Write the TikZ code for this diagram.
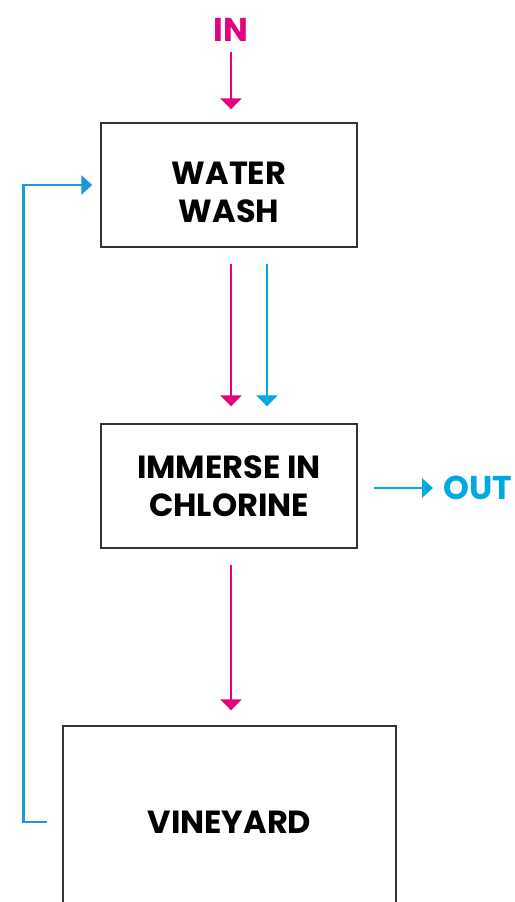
\documentclass[tikz,border=0pt]{standalone}
\usepackage{fontspec}
\setsansfont{Poppins}
\usetikzlibrary{arrows.meta,positioning}

\definecolor{inpink}{HTML}{E6007E}
\definecolor{outblue}{HTML}{00A9E0}
\definecolor{loopblue}{HTML}{1B9AD6}

\tikzset{
  stage/.style={draw=black!80,line width=1.4pt,align=center,inner sep=0pt,
    font=\sffamily\bfseries\fontsize{32}{38}\selectfont},
  flow/.style={line width=2.8pt,-{Triangle[length=11pt,width=21pt]}},
  backflow/.style={line width=2.8pt,-{Triangle[length=11pt,width=19pt]}},
  tag/.style={inner sep=0pt,font=\sffamily\bfseries\fontsize{33}{38}\selectfont},
}

\begin{document}
\begin{tikzpicture}[x=1pt,y=-1pt]
  \useasboundingbox (0,0) rectangle (514,902);
  \clip (0,0) rectangle (514,902);

  % process stages
  \node[stage,minimum width=256pt,minimum height=124pt] (wash) at (229,185) {\rule{0pt}{37pt}WATER\\WASH};
  \node[stage,minimum width=256pt,minimum height=124pt] (chlorine) at (229,486) {IMMERSE IN\\CHLORINE};
  \node[stage,minimum width=333pt,minimum height=192pt] (vineyard) at (229.5,822) {VINEYARD};

  % in and out
  \node[tag,text=inpink] (in) at (231,30) {IN};
  \node[tag,text=outblue,anchor=west] (out) at (443,488) {OUT};

  \draw[flow,inpink] ([yshift=-10pt]in.south) -- ([xshift=2pt,yshift=13pt]wash.north);
  \draw[flow,inpink] ([xshift=2pt,yshift=-16pt]wash.south) -- ([xshift=2pt,yshift=17pt]chlorine.north);
  \draw[flow,outblue] ([xshift=38pt,yshift=-16pt]wash.south) -- ([xshift=38pt,yshift=17pt]chlorine.north);
  \draw[flow,inpink] ([xshift=2pt,yshift=-16pt]chlorine.south) -- ([xshift=1.5pt,yshift=15pt]vineyard.north);
  \draw[backflow,outblue] ([xshift=16pt,yshift=-2pt]chlorine.east) -- ([xshift=-10pt]out.west);

  % return loop
  \draw[backflow,loopblue] ([xshift=-15pt]vineyard.west) -- ++(-24pt,0) |- ([xshift=-8pt]wash.west);
\end{tikzpicture}
\end{document}
